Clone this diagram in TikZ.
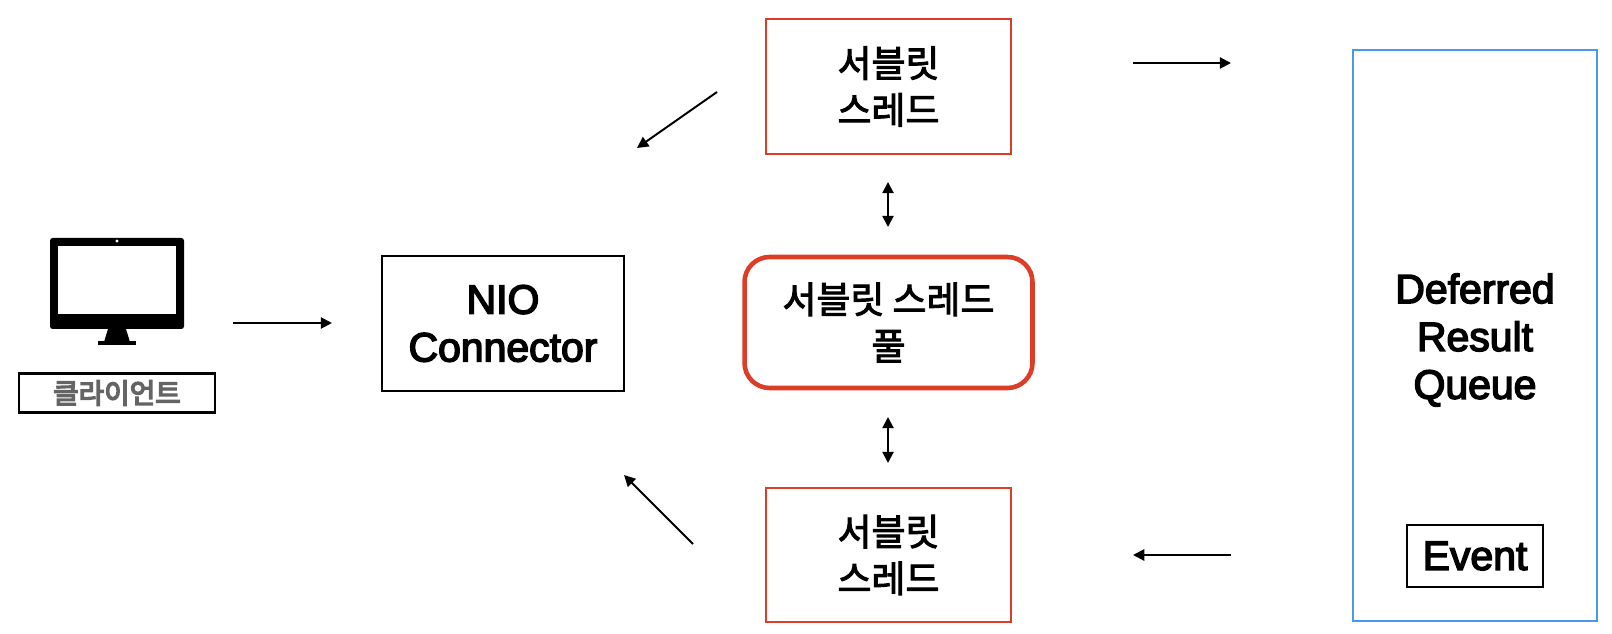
\documentclass[tikz,border=0pt]{standalone}
\usepackage{fontspec}
\setmainfont{Liberation Sans}
\newfontfamily\kofont{Noto Sans CJK KR}
\usetikzlibrary{arrows.meta}
\definecolor{boxred}{RGB}{221,60,38}
\definecolor{queueblue}{RGB}{74,150,240}
\definecolor{labelgray}{RGB}{100,100,100}
\tikzset{
    heavytext/.style={execute at begin node={\special{pdf:code 2 Tr #1 w}}, execute at end node={\special{pdf:code 0 Tr}}},
    plainbox/.style={draw=black, line width=1.15pt, rectangle, inner sep=0pt, align=center},
    threadbox/.style={draw=boxred, line width=1.15pt, rectangle, inner sep=0pt, align=center,
        minimum width=4.9cm, minimum height=2.7cm, font=\kofontbig, heavytext=0.55},
    arrowline/.style={line width=1.1pt, -{Triangle[length=6.4pt,width=6.4pt]}},
    bothline/.style={line width=1.1pt, {Triangle[length=6.4pt,width=6.4pt]}-{Triangle[length=6.4pt,width=6.4pt]}}
}
\newcommand{\kofontbig}{\kofont\fontsize{21}{26.6}\selectfont}
\newcommand{\latinbig}{\fontsize{23.3}{27.2}\selectfont}
\begin{document}
\begin{tikzpicture}[x=0.02cm, y=-0.02cm]
    \useasboundingbox (0,0) rectangle (1612,634);

    % Client: monitor icon and label
    \fill[black, rounded corners=1.5pt] (50,238) rectangle (184,329);
    \fill[white] (58,246) rectangle (176,314);
    \fill[white] (117,241) circle (0.9pt);
    \fill[black] (108,329) -- (126,329) -- (130,342) -- (104,342) -- cycle;
    \fill[black] (98,341) rectangle (136,345);
    \node[plainbox, minimum width=3.92cm, minimum height=0.78cm, text=labelgray, heavytext=0.8,
        font=\kofont\fontsize{15.8}{18}\selectfont] (client) at (117,393) {클라이언트};

    % Connector and thread pool
    \node[plainbox, minimum width=4.86cm, minimum height=2.7cm, font=\latinbig, heavytext=0.85] (nio) at (503,323.5) {NIO\\Connector};
    \node[threadbox] (threadTop) at (888.5,86.5) {서블릿\\스레드};
    \node[threadbox] (threadBottom) at (888.5,555) {서블릿\\스레드};
    \node[draw=boxred, line width=2.6pt, rectangle, rounded corners=0.5cm, inner sep=0pt, align=center,
        minimum width=5.76cm, minimum height=2.62cm, font=\kofontbig, heavytext=0.55] (pool) at (888.5,322.5) {서블릿 스레드\\풀};

    % Deferred result queue
    \node[draw=queueblue, line width=1.5pt, rectangle, inner sep=0pt, minimum width=4.88cm, minimum height=11.42cm] (queue) at (1475,335.5) {};
    \node[align=center, font=\latinbig, heavytext=0.85] (queueText) at (1475,340) {Deferred\\Result\\Queue};
    \node[plainbox, minimum width=2.72cm, minimum height=1.24cm, font=\latinbig, heavytext=0.85] (event) at (1475,556) {Event};

    % Free arrow ends
    \foreach \n/\x/\y in {clientA/233/323, clientB/332/323,
        topA/1133/63, topB/1231/63, bottomA/1231/555, bottomB/1133/555,
        backA/717/92, backB/637/148, fwdA/693/544, fwdB/624/475,
        upA/888/182, upB/888/227, downA/888/417, downB/888/463} {
        \coordinate (\n) at (\x,\y);
    }

    \draw[arrowline] (clientA) -- (clientB);
    \draw[arrowline] (topA) -- (topB);
    \draw[arrowline] (bottomA) -- (bottomB);
    \draw[arrowline] (backA) -- (backB);
    \draw[arrowline] (fwdA) -- (fwdB);
    \draw[bothline] (upA) -- (upB);
    \draw[bothline] (downA) -- (downB);
\end{tikzpicture}
\end{document}
